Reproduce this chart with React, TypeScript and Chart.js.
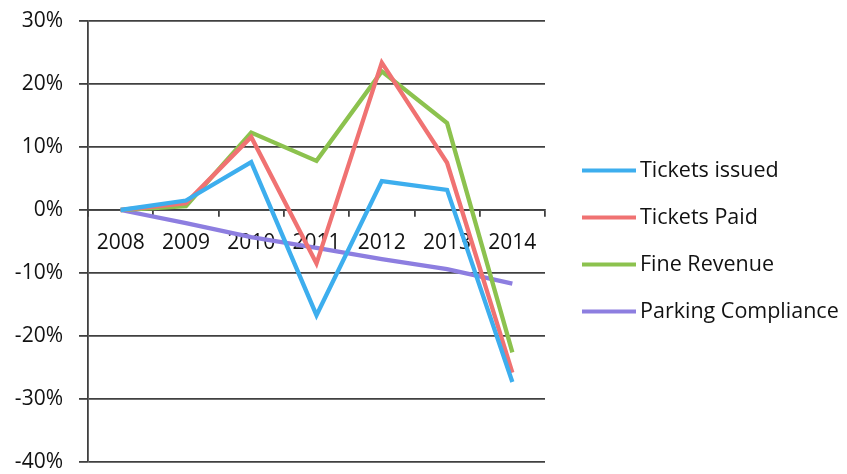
import React, { useEffect, useRef } from "react";
import { Chart, registerables } from "chart.js";

Chart.register(...registerables);

// Year-on-year change since 2008, in percent
const years = ["2008", "2009", "2010", "2011", "2012", "2013", "2014"];
const ticketsIssued = [0, 1.5, 7.6, -16.7, 4.6, 3.2, -27.3];
const ticketsPaid = [0, 1.1, 11.6, -8.5, 23.4, 7.5, -25.8];
const fineRevenue = [0, 0.6, 12.3, 7.8, 22.0, 13.8, -22.6];
const parkingCompliance = [0, -2.1, -4.3, -6.0, -7.8, -9.4, -11.7];

const seriesNames = ["Tickets issued", "Tickets Paid", "Fine Revenue", "Parking Compliance"];
const seriesColors = ["#3daeee", "#f07272", "#8cc24e", "#8d7ee0"];
const yTickValues = [30, 20, 10, 0, -10, -20, -30, -40];

const FONT = "'Open Sans', Lato, sans-serif";
const TEXT = "#121212";
const GRID = "#404040";

// Legend drawn to the right of the plot: a thick line sample followed by the series name.
const sideLegend = {
  id: "sideLegend",
  afterDraw(chart: any) {
    const { ctx, chartArea } = chart;
    const datasets = chart.data.datasets;
    const rowGap = 47;
    const sampleW = 54;
    const x0 = chartArea.right + 37;
    const midY = chart.height / 2 + 4;
    const firstY = midY - ((datasets.length - 1) * rowGap) / 2;
    ctx.save();
    ctx.font = `21.5px ${FONT}`;
    ctx.textBaseline = "middle";
    ctx.textAlign = "left";
    datasets.forEach((ds: any, i: number) => {
      const y = firstY + i * rowGap;
      ctx.fillStyle = ds.borderColor;
      ctx.fillRect(x0, y - 2, sampleW, 4);
      ctx.fillStyle = TEXT;
      ctx.fillText(ds.label, x0 + sampleW + 4, y);
    });
    ctx.restore();
  },
};

export default function App() {
  const canvasRef = useRef<HTMLCanvasElement | null>(null);

  useEffect(() => {
    const canvas = canvasRef.current;
    if (!canvas) return;
    const values = [ticketsIssued, ticketsPaid, fineRevenue, parkingCompliance];
    const chart = new Chart(canvas, {
      type: "line",
      data: {
        labels: years,
        datasets: seriesNames.map((name, i) => ({
          label: name,
          data: values[i],
          borderColor: seriesColors[i],
          backgroundColor: seriesColors[i],
          borderWidth: 4.3,
          pointRadius: 0,
          tension: 0,
          fill: false,
        })),
      },
      options: {
        responsive: false,
        animation: false,
        layout: { padding: { top: 21, bottom: 12, left: 0, right: 302 } },
        scales: {
          x: {
            type: "category",
            position: { y: 0 },
            offset: true,
            grid: {
              display: true,
              offset: true,
              drawOnChartArea: false,
              drawTicks: true,
              tickLength: 6,
              color: GRID,
              lineWidth: 1.8,
            },
            border: { display: true, color: GRID, width: 1.8 },
            ticks: {
              color: TEXT,
              font: { family: FONT, size: 21 },
              padding: 14,
              maxRotation: 0,
              autoSkip: false,
            },
          },
          y: {
            min: -40,
            max: 30,
            afterFit: (s: any) => {
              s.width = 88;
              s.paddingTop = 0;
              s.paddingBottom = 0;
            },
            afterBuildTicks: (s: any) => {
              s.ticks = yTickValues.map((v) => ({ value: v }));
            },
            grid: {
              color: GRID,
              lineWidth: 1.8,
              drawTicks: true,
              tickLength: 9,
            },
            border: { display: true, color: GRID, width: 1.8 },
            ticks: {
              color: TEXT,
              font: { family: FONT, size: 21 },
              padding: 16,
              callback: (v: any) => `${v}%`,
            },
          },
        },
        plugins: {
          tooltip: { enabled: false },
          legend: { display: false },
        },
      },
      plugins: [sideLegend],
    });
    return () => chart.destroy();
  }, []);

  return (
    <div style={{ position: "fixed", left: 0, top: 0, width: 847, height: 474, background: "#fff" }}>
      <canvas ref={canvasRef} width={847} height={474} />
    </div>
  );
}
